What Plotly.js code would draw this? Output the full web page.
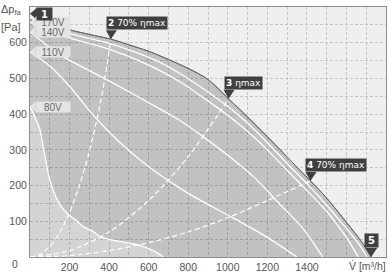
<!DOCTYPE html>
<html><head><meta charset="utf-8">
<script src="https://cdn.plot.ly/plotly-3.0.1.min.js"></script>
<style>html,body{margin:0;padding:0;background:#fff;}#chart{width:391px;height:277px;}</style>
</head><body><div id="chart"></div>
<script>
// Envelope (maximum curve)
const envV = [0,100,200,300,409,500,600,700,800,900,1004,1100,1200,1300,1418,1500,1600,1680,1725];
const envP = [664,650,636,623,610,594,576,553,528,497,443,392,337,280,213,165,97,40,0];
// Upper unlabeled speed curve (label hidden under marker 1)
const topV = [0,152,300,409,550,657,760,826,910,1004,1100,1200,1300,1418,1500,1600,1660,1705];
const topP = [661,633,612,597,570,545,513,490,458,420,375,320,262,195,145,80,38,0];
// 170V
const v170V = [0,152,300,409,550,657,760,910,1004,1100,1200,1300,1418,1500,1600,1660];
const v170P = [657,622,598,580,550,522,490,433,395,352,300,243,176,128,55,0];
// 140V
const v140V = [0,152,300,450,600,750,880,1000,1130,1260,1380,1480];
const v140P = [631,566,522,478,432,385,335,285,225,150,80,0];
// 110V
const v110V = [0,100,200,300,400,500,607,800,1028,1200,1350];
const v110P = [574,535,478,410,350,298,250,178,109,55,0];
// 80V
const v80V = [0,25,50,70,100,143,185,230,269,320,354,420,506,560,598,649,675];
const v80P = [421,392,357,300,216,155,123,104,85,71,57,47,38,32,24,10,0];
// System curves (dashed)
const eta70aV = [0,50,100,150,200,250,300,350,380,409];
const eta70aP = [0,7,30,68,125,200,295,415,505,610];
const etaMaxV = [0,200,400,600,800,1004];
const etaMaxP = [0,18,70,158,281,443];
const eta70bV = [0,200,400,600,800,1000,1200,1418];
const eta70bP = [0,4,18,40,70,110,158,213];
// Operating points / callouts
const opV = [0,409,1004,1418,1725];
const opP = [664,610,443,213,0];
const opNum = ['1','2','3','4','5'];
const opText = ['','70% ηmax','ηmax','70% ηmax',''];
// Speed labels
const speedLabels = ['170V','140V','110V','80V'];
const speedStart = [v170P[0], v140P[0], v110P[0], v80P[0]];
// Tick labels
const xTickVals = [100,200,300,400,500,600,700,800,900,1000,1100,1200,1300,1400,1500,1600,1700];
const xTickText = ['','200','','400','','600','','800','','1000','','1200','','1400','','',''];
const yTickVals = [50,100,150,200,250,300,350,400,450,500,550,600,650];
const yTickText = ['','100','','200','','300','','400','','500','','600',''];

const FONT = 'Liberation Sans Narrow, Liberation Sans, Arial, sans-serif';
const white = '#ffffff';
const sp = {shape:'spline', smoothing:0.8};

const traces = [
  {x:v80V, y:v80P, mode:'lines', fill:'tozeroy', fillcolor:'rgba(0,0,0,0.11)', line:Object.assign({color:white,width:1.3},sp), hoverinfo:'skip'},
  {x:envV, y:envP, mode:'lines', fill:'tonexty', fillcolor:'rgba(0,0,0,0.19)', line:Object.assign({color:'#6a6a6a',width:1},sp), hoverinfo:'skip'},
  {x:topV, y:topP, mode:'lines', line:Object.assign({color:white,width:1.3},sp)},
  {x:v170V, y:v170P, mode:'lines', line:Object.assign({color:white,width:1.3},sp)},
  {x:v140V, y:v140P, mode:'lines', line:Object.assign({color:white,width:1.3},sp)},
  {x:v110V, y:v110P, mode:'lines', line:Object.assign({color:white,width:1.3},sp)},
  {x:eta70aV, y:eta70aP, mode:'lines', line:Object.assign({color:white,width:1.2,dash:'5px,3px'},sp)},
  {x:etaMaxV, y:etaMaxP, mode:'lines', line:Object.assign({color:white,width:1.2,dash:'5px,3px'},sp)},
  {x:eta70bV, y:eta70bP, mode:'lines', line:Object.assign({color:white,width:1.2,dash:'5px,3px'},sp)},
  {x:envV, y:envP, mode:'lines', line:Object.assign({color:'#6a6a6a',width:1},sp)}
];

const shapes = [];
const annotations = [];
// speed labels
speedLabels.forEach((t,i)=>{
  shapes.push({type:'path', xref:'x', yref:'y', xsizemode:'pixel', ysizemode:'pixel', xanchor:0, yanchor:speedStart[i],
    path:'M0,0 L5,-5 L5,5 Z', fillcolor:'#e4e4e4', line:{width:0}, layer:'above'});
  annotations.push({x:0, y:speedStart[i], xref:'x', yref:'y', xanchor:'left', yanchor:'middle', xshift:5,
    text:t, showarrow:false, bgcolor:'#e4e4e4', borderpad:1, width:32, height:8,
    font:{family:FONT, size:10, color:'#6a6a6a'}});
});
// operating point callouts
opNum.forEach((n,i)=>{
  const txt = '<b>'+n+'</b>' + (opText[i] ? ' '+opText[i] : '');
  if(i===0){
    shapes.push({type:'path', xref:'x', yref:'y', xsizemode:'pixel', ysizemode:'pixel', xanchor:opV[i], yanchor:opP[i],
      path:'M0,6 L7,0 L7,12 Z', fillcolor:'#404040', line:{width:0}, layer:'above'});
    annotations.push({x:opV[i], y:opP[i], xref:'x', yref:'y', xanchor:'left', yanchor:'middle', xshift:6, yshift:6,
      text:txt, showarrow:false, bgcolor:'#404040', borderpad:1, width:13, height:10,
      font:{family:'DejaVu Sans', size:10, color:'#fff'}});
  } else if(i===4){
    shapes.push({type:'path', xref:'x', yref:'y', xsizemode:'pixel', ysizemode:'pixel', xanchor:opV[i], yanchor:opP[i],
      path:'M0,0 L-6,9 L6,9 Z', fillcolor:'#404040', line:{width:0}, layer:'above'});
    annotations.push({x:opV[i], y:opP[i], xref:'x', yref:'y', xanchor:'center', yanchor:'bottom', yshift:9,
      text:txt, showarrow:false, bgcolor:'#404040', borderpad:1, width:11, height:11,
      font:{family:'DejaVu Sans', size:10, color:'#fff'}});
  } else {
    shapes.push({type:'path', xref:'x', yref:'y', xsizemode:'pixel', ysizemode:'pixel', xanchor:opV[i], yanchor:opP[i],
      path:'M0,0 L-5,9 L6,9 Z', fillcolor:'#404040', line:{width:0}, layer:'above'});
    annotations.push({x:opV[i], y:opP[i], xref:'x', yref:'y', xanchor:'left', yanchor:'bottom', xshift:-5, yshift:9,
      text:txt, showarrow:false, bgcolor:'#404040', borderpad:1, height:10,
      font:{family:'DejaVu Sans', size:9, color:'#fff'}});
  }
});
// axis captions
annotations.push({xref:'paper', yref:'paper', x:0, y:1, xanchor:'right', yanchor:'middle', xshift:-6, yshift:-3,
  text:'Δp<sub>fa</sub>', showarrow:false, font:{family:FONT, size:11, color:'#555'}});
annotations.push({xref:'paper', yref:'paper', x:0, y:1, xanchor:'right', yanchor:'middle', xshift:-7, yshift:-20,
  text:'[Pa]', showarrow:false, font:{family:FONT, size:11, color:'#555'}});
annotations.push({xref:'paper', yref:'paper', x:1, y:0, xanchor:'right', yanchor:'top', xshift:2, yshift:-1,
  text:'V̇ [m³/h]', showarrow:false, font:{family:FONT, size:10.5, color:'#555'}});
annotations.push({xref:'x', yref:'y', x:0, y:0, xanchor:'center', yanchor:'middle', xshift:-15, yshift:-7,
  text:'0', showarrow:false, font:{family:FONT, size:10.5, color:'#555'}});

const axisCommon = {showgrid:true, gridcolor:'#c6c6c6', griddash:'3px,2px', gridwidth:1, zeroline:false,
  showline:true, linecolor:'#8c8c8c', linewidth:1, mirror:true, ticks:'', fixedrange:true,
  tickfont:{family:FONT, size:10.5, color:'#555'}};

const layout = {
  width:391, height:277,
  margin:{l:30, r:5, t:7, b:20, pad:0},
  paper_bgcolor:'#ffffff', plot_bgcolor:'#efefef',
  showlegend:false,
  xaxis:Object.assign({range:[0,1800], tickmode:'array', tickvals:xTickVals, ticktext:xTickText}, axisCommon),
  yaxis:Object.assign({range:[0,700], tickmode:'array', tickvals:yTickVals, ticktext:yTickText}, axisCommon),
  shapes:shapes, annotations:annotations
};
Plotly.newPlot('chart', traces, layout, {staticPlot:true, displayModeBar:false});
</script></body></html>
